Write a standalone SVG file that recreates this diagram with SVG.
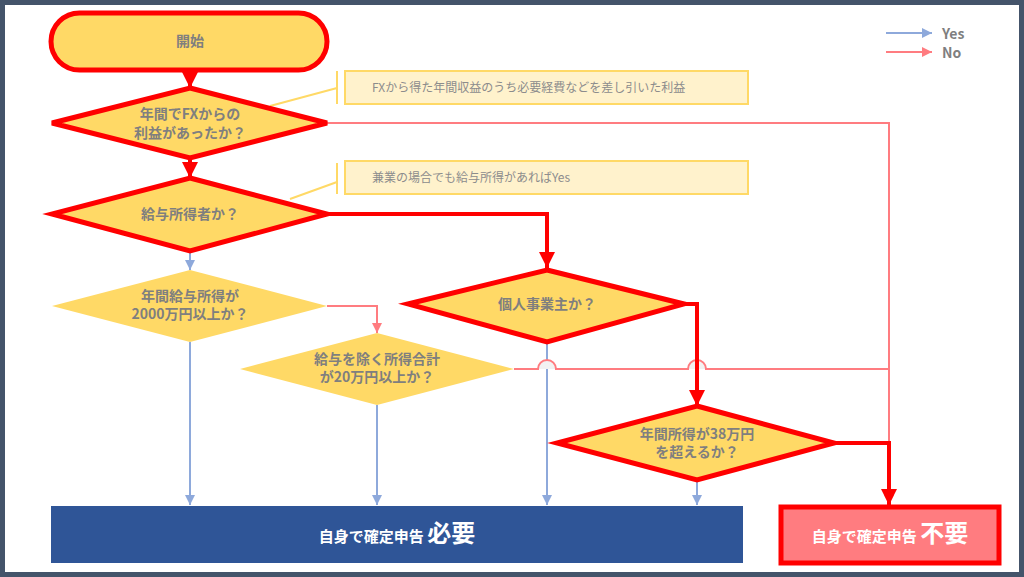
<svg xmlns="http://www.w3.org/2000/svg" width="1024" height="577" viewBox="0 0 1024 577">
<style>
.t{font-family:"Noto Sans CJK JP","Noto Sans",sans-serif;font-weight:bold;fill:#7F7F7F;font-size:14px;text-anchor:middle}
.n{font-family:"Noto Sans CJK JP","Noto Sans",sans-serif;fill:#8C8C8C;font-size:12px}
.dr{fill:#FFD966;stroke:#FF0000;stroke-width:5;stroke-linejoin:miter}
.dn{fill:#FFD966}
.red{fill:none;stroke:#FF0000;stroke-width:4}
.pink{fill:none;stroke:#FF7C80;stroke-width:2}
.blue{fill:none;stroke:#8EA9DB;stroke-width:2}
.note{fill:#FFF2CC;stroke:#FFD966;stroke-width:2}
.call{fill:none;stroke:#FFD966;stroke-width:2}
.w{font-family:"Noto Sans CJK JP","Noto Sans",sans-serif;fill:#FFFFFF;font-weight:bold}
</style>
<defs>
<marker id="ar" viewBox="0 0 10 10" refX="10" refY="5" markerWidth="4" markerHeight="4" markerUnits="strokeWidth" orient="auto"><path d="M0,0L10,5L0,10z" fill="#FF0000"/></marker>
<marker id="ab" viewBox="0 0 10 10" refX="10" refY="5" markerWidth="5" markerHeight="5" markerUnits="strokeWidth" orient="auto"><path d="M0,0L10,5L0,10z" fill="#8EA9DB"/></marker>
<marker id="ap" viewBox="0 0 10 10" refX="10" refY="5" markerWidth="5" markerHeight="5" markerUnits="strokeWidth" orient="auto"><path d="M0,0L10,5L0,10z" fill="#FF7C80"/></marker>
</defs>
<rect x="0" y="0" width="1024" height="577" fill="#44546A"/>
<rect x="5" y="5" width="1014" height="567" fill="#FFFFFF"/>
<g id="connectors">
<path class="red" d="M190,70V88" marker-end="url(#ar)"/>
<path class="red" d="M190,158V178" marker-end="url(#ar)"/>
<path class="pink" d="M327,123H889V505" marker-end="url(#ap)"/>
<path class="red" d="M327,214H547V268" marker-end="url(#ar)"/>
<path class="blue" d="M190,251V270" marker-end="url(#ab)"/>
<path class="pink" d="M327,306H377V333" marker-end="url(#ap)"/>
<path class="blue" d="M190,342V505" marker-end="url(#ab)"/>
<path class="blue" d="M377,405V505" marker-end="url(#ab)"/>
<path class="blue" d="M547,342V505" marker-end="url(#ab)"/>
<path d="M538,369A9,9 0 0 1 556,369z M688,369A9,9 0 0 1 706,369z" fill="#F2F2F2"/>
<path class="pink" d="M514,369H538A9,9 0 0 1 556,369H688A9,9 0 0 1 706,369H889"/>
<path class="red" d="M684,304H697V406" marker-end="url(#ar)"/>
<path class="blue" d="M697,480V505" marker-end="url(#ab)"/>
<path class="red" d="M834,443H889V505" marker-end="url(#ar)"/>
<path class="call" d="M270,106L337,88M337,71V104"/>
<path class="call" d="M290,199L337,182M337,163V194"/>
</g>
<g id="start"><rect x="51" y="13" width="276" height="57" rx="28.5" class="dr"/><text class="t" x="190" y="46">開始</text></g>
<g id="d1"><path class="dr" d="M190,88L327,123L190,158L52,123z"/><text class="t" x="190" y="119">年間でFXからの</text><text class="t" x="190" y="138">利益があったか？</text></g>
<g id="note1"><rect class="note" x="345" y="71" width="403" height="33"/><text class="n" x="372" y="92">FXから得た年間収益のうち必要経費などを差し引いた利益</text></g>
<g id="d2"><path class="dr" d="M190,178L327,214L190,251L52,214z"/><text class="t" x="190" y="219">給与所得者か？</text></g>
<g id="note2"><rect class="note" x="345" y="161" width="403" height="33"/><text class="n" x="372" y="182">兼業の場合でも給与所得があればYes</text></g>
<g id="d3"><path class="dn" d="M190,270L327,306L190,342L52,306z"/><text class="t" x="190" y="301">年間給与所得が</text><text class="t" x="190" y="319">2000万円以上か？</text></g>
<g id="d4"><path class="dn" d="M377,333L514,369L377,405L240,369z"/><text class="t" x="377" y="364">給与を除く所得合計</text><text class="t" x="377" y="382">が20万円以上か？</text></g>
<g id="d5"><path class="dr" d="M547,270L684,304L547,342L408,304z"/><text class="t" x="547" y="309">個人事業主か？</text></g>
<g id="d6"><path class="dr" d="M697,406L834,443L697,480L557,443z"/><text class="t" x="697" y="439">年間所得が38万円</text><text class="t" x="697" y="457">を超えるか？</text></g>
<g id="yes"><rect x="51" y="506" width="692" height="57" fill="#2F5597"/><text class="w" x="397" y="542" text-anchor="middle"><tspan font-size="15">自身で確定申告 </tspan><tspan font-size="24">必要</tspan></text></g>
<g id="no"><rect x="781" y="507" width="218" height="56" fill="#FF7C80" stroke="#FF0000" stroke-width="5"/><text class="w" x="890" y="542" text-anchor="middle"><tspan font-size="15">自身で確定申告 </tspan><tspan font-size="24">不要</tspan></text></g>
<g id="legend">
<path class="blue" d="M886,33H932" marker-end="url(#ab)"/><text class="t" x="942" y="39" style="text-anchor:start">Yes</text>
<path class="pink" d="M886,52H932" marker-end="url(#ap)"/><text class="t" x="942" y="58" style="text-anchor:start">No</text>
</g>
</svg>
